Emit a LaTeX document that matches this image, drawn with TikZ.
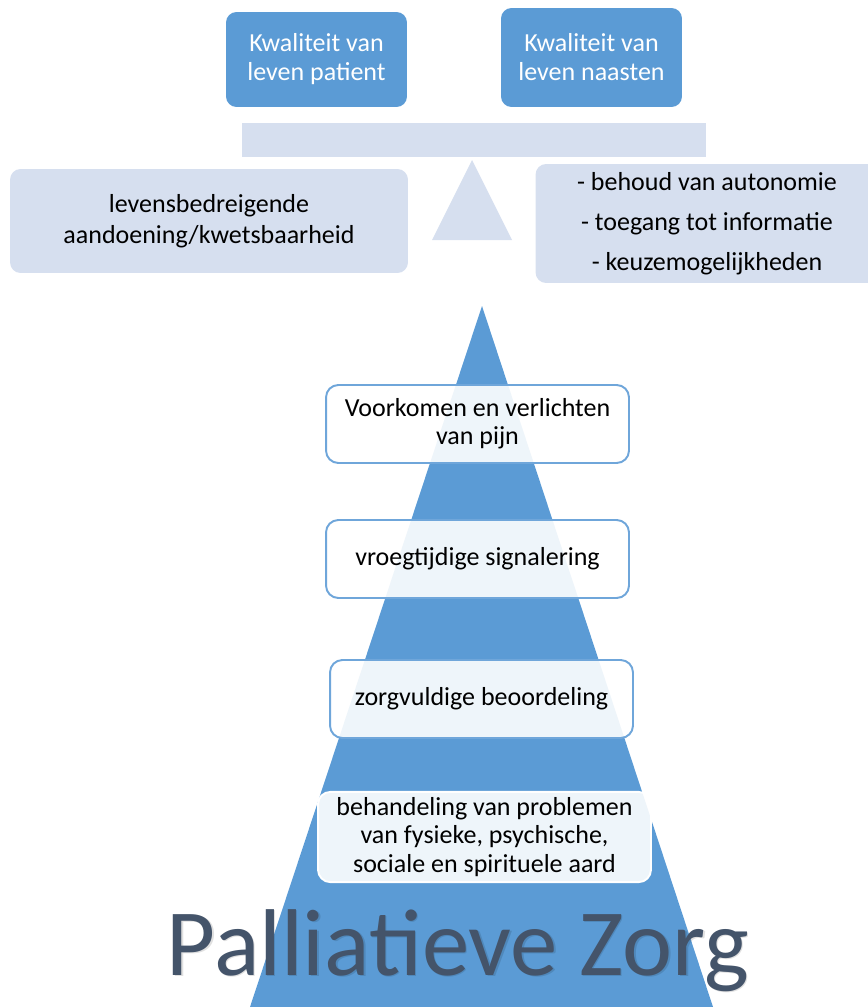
\documentclass[tikz,border=0pt]{standalone}
\usepackage{fontspec}
\setmainfont{Carlito}
\definecolor{zorgblue}{HTML}{5B9BD5}
\definecolor{zorglight}{HTML}{D6DFEF}
\definecolor{zorgline}{HTML}{6FA6DA}
\definecolor{zorgtitle}{HTML}{44546A}
\tikzset{
  topbox/.style={fill=zorgblue, rounded corners=6pt, text=white, align=center,
    minimum width=3.62cm, font=\fontsize{14.8}{16.5}\selectfont},
  lightbox/.style={fill=zorglight, rounded corners=6pt, align=center},
  stepbox/.style={draw=zorgline, line width=1.1pt, fill=white, fill opacity=0.9,
    text opacity=1, rounded corners=7pt, align=center, minimum width=6.06cm,
    minimum height=1.56cm, font=\fontsize{14.8}{16}\selectfont}
}

\begin{document}
\begin{tikzpicture}[x=0.02cm, y=-0.02cm]
  \useasboundingbox (0,0) rectangle (868,1007);
  \clip (0,0) rectangle (868,1007);

  % balans
  \node[topbox, minimum height=1.9cm] (patient) at (316.5,59.5) {Kwaliteit van\\leven patient};
  \node[topbox, minimum height=1.98cm] (naasten) at (591.5,57.5) {Kwaliteit van\\leven naasten};
  \node[fill=zorglight, minimum width=9.28cm, minimum height=0.68cm, inner sep=0pt] (bar) at (474,140) {};
  \fill[zorglight] (472,160) coordinate (top) -- (512,240) -- (432,240) -- cycle;
  \node[lightbox, minimum width=7.96cm, minimum height=2.08cm,
    font=\fontsize{14.8}{17.6}\selectfont] (aandoening) at (209,221) {levensbedreigende\\aandoening/kwetsbaarheid};
  \node[lightbox, minimum width=6.86cm, minimum height=2.38cm,
    font=\fontsize{14.8}{22.8}\selectfont] (waarden) at (707,223.5) {- behoud van autonomie\\- toegang tot informatie\\- keuzemogelijkheden};

  % piramide
  \fill[zorgblue] (482,306) coordinate (apex) -- (713,1007) -- (250,1007) -- cycle;
  \node[stepbox] (pijn) at (477.5,424) {Voorkomen en verlichten\\van pijn};
  \node[stepbox] (signalering) at (477.5,559) {vroegtijdige signalering};
  \node[stepbox] (beoordeling) at (481.5,699) {zorgvuldige beoordeling};
  \node[stepbox, draw=white, minimum width=6.66cm, minimum height=1.72cm] (behandeling) at (484.5,837)
    {behandeling van problemen\\van fysieke, psychische,\\sociale en spirituele aard};

  \node[anchor=base, text=black, opacity=0.12, font=\fontsize{54}{54}\selectfont] at (459.5,976.5) {Palliatieve Zorg};
  \node[anchor=base, text=zorgtitle, font=\fontsize{54}{54}\selectfont] (titel) at (458,975) {Palliatieve Zorg};
\end{tikzpicture}
\end{document}
